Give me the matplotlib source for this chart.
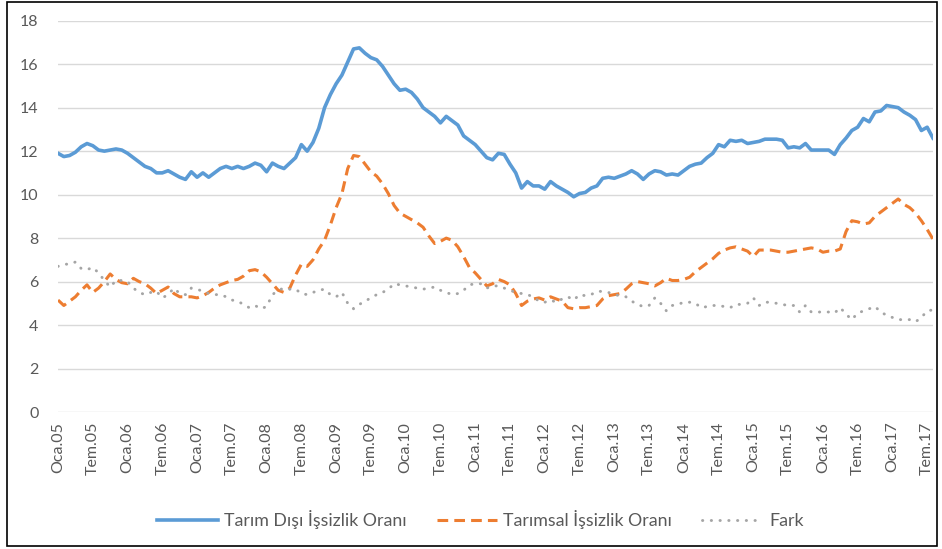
import matplotlib
matplotlib.use("Agg")
import matplotlib.pyplot as plt
import numpy as np
from matplotlib.patches import Rectangle

plt.rcParams['font.family'] = ['Lato', 'DejaVu Sans']

# monthly values, Oca.05 .. Ağu.17
tarim_disi = [
    11.9, 11.75, 11.8, 11.95, 12.2, 12.35, 12.25, 12.05, 12.0, 12.05, 12.1, 12.05,
    11.9, 11.7, 11.5, 11.3, 11.2, 11.0, 11.0, 11.1, 10.95, 10.8, 10.7, 11.05,
    10.8, 11.0, 10.8, 11.0, 11.2, 11.3, 11.2, 11.3, 11.2, 11.3, 11.45, 11.35,
    11.05, 11.45, 11.3, 11.2, 11.45, 11.7, 12.3, 12.0, 12.4, 13.05, 14.0, 14.6,
    15.1, 15.5, 16.1, 16.7, 16.75, 16.5, 16.3, 16.2, 15.9, 15.5, 15.1, 14.8,
    14.85, 14.7, 14.4, 14.0, 13.8, 13.6, 13.3, 13.6, 13.4, 13.2, 12.7, 12.5,
    12.3, 12.0, 11.7, 11.6, 11.9, 11.85, 11.4, 11.0, 10.3, 10.6, 10.4, 10.4,
    10.25, 10.6, 10.4, 10.25, 10.1, 9.9, 10.05, 10.1, 10.3, 10.4, 10.75, 10.8,
    10.75, 10.85, 10.95, 11.1, 10.95, 10.7, 10.95, 11.1, 11.05, 10.9, 10.95, 10.9,
    11.1, 11.3, 11.4, 11.45, 11.7, 11.9, 12.3, 12.2, 12.5, 12.45, 12.5, 12.35,
    12.4, 12.45, 12.55, 12.55, 12.55, 12.5, 12.15, 12.2, 12.15, 12.35, 12.05, 12.05,
    12.05, 12.05, 11.85, 12.3, 12.6, 12.95, 13.1, 13.5, 13.35, 13.8, 13.85, 14.1,
    14.05, 14.0, 13.8, 13.65, 13.45, 12.95, 13.1, 12.6,
]
tarimsal = [
    5.15, 4.9, 5.1, 5.3, 5.6, 5.85, 5.5, 5.7, 6.0, 6.35, 6.1, 5.95,
    5.9, 6.15, 6.0, 5.9, 5.7, 5.45, 5.6, 5.75, 5.45, 5.3, 5.3, 5.3,
    5.25, 5.35, 5.5, 5.7, 5.85, 5.95, 6.05, 6.1, 6.25, 6.5, 6.55, 6.45,
    6.2, 5.9, 5.6, 5.5, 5.7, 6.3, 6.8, 6.7, 7.0, 7.5, 7.9, 8.6,
    9.4, 10.05, 11.2, 11.8, 11.75, 11.4, 11.05, 10.85, 10.5, 10.05, 9.5, 9.15,
    9.0, 8.85, 8.7, 8.5, 8.1, 7.75, 7.85, 8.0, 7.9, 7.6, 7.15, 6.65,
    6.4, 6.1, 5.8, 5.9, 6.1, 6.0, 5.85, 5.45, 4.9, 5.1, 5.2, 5.25,
    5.15, 5.3, 5.2, 5.1, 4.8, 4.75, 4.8, 4.8, 4.85, 4.9, 5.2, 5.35,
    5.4, 5.45, 5.65, 5.9, 6.0, 5.95, 5.9, 5.8, 5.95, 6.15, 6.05, 6.05,
    6.1, 6.2, 6.45, 6.65, 6.85, 7.05, 7.3, 7.45, 7.55, 7.6, 7.5, 7.4,
    7.15, 7.45, 7.45, 7.45, 7.4, 7.35, 7.35, 7.4, 7.45, 7.5, 7.55, 7.5,
    7.35, 7.4, 7.4, 7.5, 8.3, 8.8, 8.75, 8.65, 8.7, 9.0, 9.2, 9.4,
    9.6, 9.8, 9.55, 9.4, 9.15, 8.8, 8.4, 7.95,
]
fark = [
    6.7, 6.8, 6.8, 6.9, 6.6, 6.55, 6.65, 6.4, 6.05, 5.75, 6.05, 6.05,
    6.0, 5.7, 5.5, 5.4, 5.5, 5.55, 5.25, 5.4, 5.7, 5.45, 5.4, 5.7,
    5.65, 5.55, 5.45, 5.4, 5.4, 5.3, 5.15, 5.1, 4.95, 4.8, 4.9, 4.75,
    4.85, 5.4, 5.6, 5.7, 5.65, 5.65, 5.45, 5.4, 5.5, 5.6, 5.65, 5.4,
    5.3, 5.5, 5.0, 4.75, 4.95, 5.1, 5.25, 5.4, 5.5, 5.65, 5.9, 5.85,
    5.8, 5.75, 5.7, 5.65, 5.7, 5.75, 5.6, 5.5, 5.4, 5.45, 5.6, 5.85,
    5.9, 5.9, 5.7, 5.8, 5.8, 5.7, 5.6, 5.5, 5.45, 5.4, 5.3, 5.1,
    5.05, 5.15, 5.05, 5.2, 5.3, 5.15, 5.4, 5.35, 5.4, 5.55, 5.55, 5.5,
    5.4, 5.35, 5.3, 5.1, 4.95, 4.85, 4.9, 5.25, 5.0, 4.65, 4.9, 4.95,
    5.05, 5.05, 5.0, 4.8, 4.85, 4.9, 4.9, 4.85, 4.8, 4.95, 4.95, 5.0,
    5.25, 4.9, 5.05, 5.05, 5.0, 4.95, 4.9, 4.9, 4.6, 4.9, 4.6, 4.6,
    4.6, 4.6, 4.55, 4.8, 4.5, 4.25, 4.55, 4.65, 4.75, 4.85, 4.6, 4.45,
    4.35, 4.25, 4.25, 4.25, 4.15, 4.35, 4.65, 4.7,
]
tick_labels = []
for yr in range(5, 18):
    tick_labels += [f"Oca.{yr:02d}", f"Tem.{yr:02d}"]

n = len(tarim_disi)
x = np.arange(n)

fig = plt.figure(figsize=(9.42, 5.49), dpi=100)
ax = fig.add_axes([0.0616, 0.2495, 0.9288, 0.7128])

ax.plot(x, tarim_disi, color="#5B9BD5", lw=2.6, label="Tarım Dışı İşsizlik Oranı",
        solid_joinstyle="round")
ax.plot(x, tarimsal, color="#ED7D31", lw=2.2, dashes=(3.5, 2.0),
        label="Tarımsal İşsizlik Oranı")
ax.plot(x, fark, color="#A5A5A5", lw=2.1, dashes=(0.1, 2.9),
        dash_capstyle="round", label="Fark")

ax.set_xlim(0, n - 1)
ax.set_ylim(0, 18)
ax.set_yticks(range(0, 19, 2))
ax.set_xticks(np.arange(0, n, 6))
ax.set_xticklabels(tick_labels, rotation=90)
ax.tick_params(axis="both", length=0, labelsize=11.5, labelcolor="#595959")
ax.tick_params(axis="y", pad=14)
ax.tick_params(axis="x", pad=7)
ax.grid(axis="y", color="#D9D9D9", lw=1.0)
ax.set_axisbelow(True)
for s in ax.spines.values():
    s.set_visible(False)

fig.legend(loc="center", bbox_to_anchor=(0.51, 0.053), ncol=3, frameon=False,
           handlelength=3.4, handletextpad=0.35, columnspacing=1.7,
           prop={"size": 12.8}, labelcolor="#595959")

fig.patches.append(Rectangle((0.007, 0.006), 0.988, 0.99, transform=fig.transFigure,
                             fill=False, edgecolor="black", lw=1.2))

fig.savefig("out.png", dpi=100)
